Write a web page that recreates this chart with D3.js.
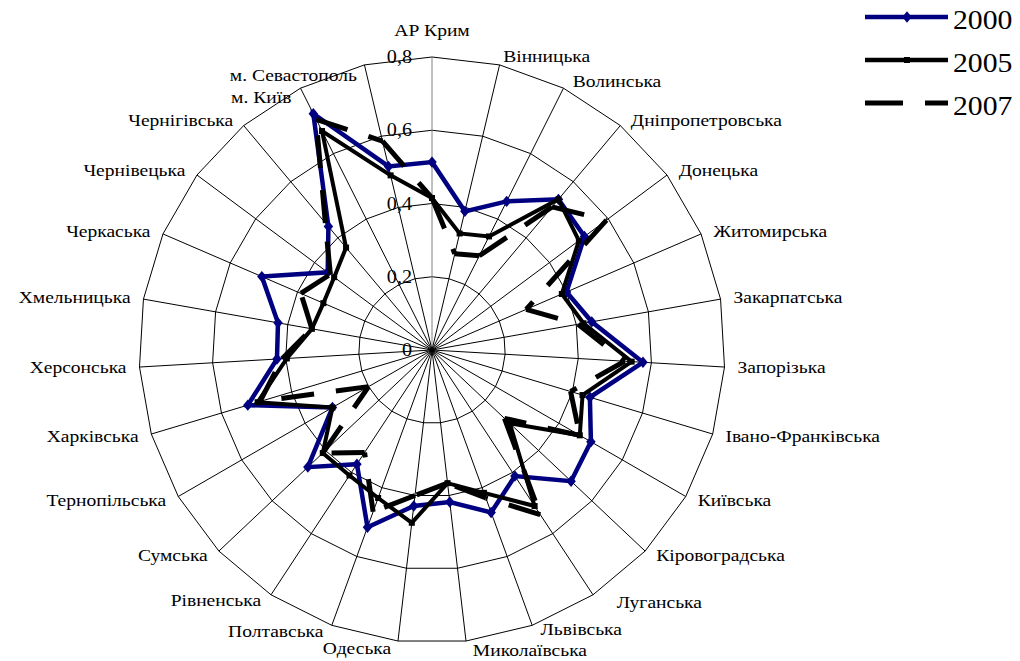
<!DOCTYPE html>
<html><head><meta charset="utf-8">
<script src="https://cdnjs.cloudflare.com/ajax/libs/d3/7.8.5/d3.min.js"></script>
<style>
body{margin:0;background:#fff}
svg{display:block}
svg text{font-family:"Times New Roman",Times,"Liberation Serif",Tinos,"DejaVu Serif","Noto Serif",serif}
</style>
</head><body>
<svg id="chart" width="1020" height="661"></svg>
<script>
const categories = ["АР Крим","Вінницька","Волинська","Дніпропетровська","Донецька","Житомирська","Закарпатська","Запорізька","Івано-Франківська","Київська","Кіровоградська","Луганська","Львівська","Миколаївська","Одеська","Полтавська","Рівненська","Сумська","Тернопільська","Харківська","Херсонська","Хмельницька","Черкаська","Чернівецька","Чернігівська","м. Київ","м. Севастополь"];
const values2000 = [0.513,0.389,0.454,0.537,0.519,0.400,0.443,0.577,0.450,0.501,0.522,0.412,0.472,0.418,0.429,0.515,0.373,0.466,0.314,0.525,0.424,0.427,0.506,0.355,0.440,0.722,0.515];
const values2005 = [0.415,0.327,0.347,0.537,0.500,0.386,0.420,0.546,0.429,0.466,0.292,0.510,0.415,0.366,0.475,0.430,0.410,0.410,0.314,0.497,0.397,0.333,0.323,0.333,0.365,0.669,0.490];
const values2007 = [0.415,0.270,0.288,0.510,0.594,0.280,0.405,0.527,0.395,0.466,0.272,0.538,0.430,0.366,0.400,0.470,0.335,0.410,0.200,0.490,0.410,0.333,0.390,0.346,0.453,0.705,0.586];
const seriesNames = ["2000","2005","2007"];
const tickValues = [0,0.2,0.4,0.6,0.8];
const tickLabels = ["0","0,2","0,4","0,6","0,8"];

const svg = d3.select("#chart");
const cx = 432, cy = 350, R = 293;
const n = categories.length;
const r = d3.scaleLinear().domain([0, 0.8]).range([0, R]);
const ang = d3.scaleLinear().domain([0, n]).range([0, 2 * Math.PI]);
const g = svg.append("g").attr("transform", `translate(${cx},${cy})`);

// Excel-like diamond marker (slightly taller than wide)
const excelDiamond = { draw(ctx, size) {
  const w = Math.sqrt(size) * 0.5, h = w * 1.2;
  ctx.moveTo(0, -h); ctx.lineTo(w, 0); ctx.lineTo(0, h); ctx.lineTo(-w, 0); ctx.closePath();
}};

const ringLine = d3.lineRadial().angle((d, i) => ang(i)).radius(d => r(d)).curve(d3.curveLinearClosed);
tickValues.filter(v => v > 0).forEach(v => {
  g.append("path").attr("d", ringLine(d3.range(n).map(() => v)))
    .attr("fill", "none").attr("stroke", "#000").attr("stroke-width", 1);
});
g.selectAll("line.spoke").data(d3.range(n)).join("line").attr("class", "spoke")
  .attr("x1", 0).attr("y1", 0)
  .attr("x2", i => r(0.8) * Math.sin(ang(i)))
  .attr("y2", i => -r(0.8) * Math.cos(ang(i)))
  .attr("stroke", i => i === 0 ? "#808080" : "#000").attr("stroke-width", 1);

g.selectAll("text.tick").data(tickValues).join("text").attr("class", "tick")
  .attr("transform", v => `translate(-20,${-r(v)}) scale(1.12,1)`)
  .attr("text-anchor", "end").attr("dominant-baseline", "central")
  .attr("font-size", 18).text((v, i) => tickLabels[i]);

const nudge = {"АР Крим": [0, -20], "м. Київ": [0, 16], "м. Севастополь": [0, 17], "Луганська": [14, 2], "Вінницька": [-4, -2], "Львівська": [0, -2], "Миколаївська": [0, 2]};
categories.forEach((c, i) => {
  const a = ang(i);
  const s = Math.sin(a), co = Math.cos(a);
  let x = (R + 7) * s, y = -(R + 7) * co;
  let anchor = "middle";
  if (s > 0.1) { anchor = "start"; x += 6; }
  else if (s < -0.1) { anchor = "end"; x -= 6; }
  const d = nudge[c] || [0, 0];
  g.append("text").attr("transform", `translate(${x + d[0]},${y + d[1]}) scale(1.15,1)`)
    .attr("text-anchor", anchor).attr("dominant-baseline", "central")
    .attr("font-size", 17).text(c);
});

const radial = d3.lineRadial().angle((d, i) => ang(i)).radius(d => r(d)).curve(d3.curveLinearClosed);
const pt = (v, i) => [r(v) * Math.sin(ang(i)), -r(v) * Math.cos(ang(i))];

g.append("path").attr("d", radial(values2000)).attr("fill", "none")
  .attr("stroke", "#000080").attr("stroke-width", 4.5).attr("stroke-linejoin", "miter");
g.selectAll("path.m2000").data(values2000).join("path").attr("class", "m2000")
  .attr("d", d3.symbol(excelDiamond, 90))
  .attr("transform", (v, i) => `translate(${pt(v, i)})`)
  .attr("fill", "#000080");
g.append("path").attr("d", radial(values2005)).attr("fill", "none")
  .attr("stroke", "#000").attr("stroke-width", 4).attr("stroke-linejoin", "miter");
g.selectAll("rect.m2005").data(values2005).join("rect").attr("class", "m2005")
  .attr("x", (v, i) => pt(v, i)[0] - 3).attr("y", (v, i) => pt(v, i)[1] - 3)
  .attr("width", 6).attr("height", 6).attr("fill", "#000");
values2007.forEach((v, i) => {
  const j = (i + 1) % n;
  const p1 = pt(v, i), p2 = pt(values2007[j], j);
  g.append("line").attr("x1", p1[0]).attr("y1", p1[1]).attr("x2", p2[0]).attr("y2", p2[1])
    .attr("stroke", "#000").attr("stroke-width", 5).attr("stroke-dasharray", "33,22");
});

const leg = svg.append("g");
const ly = [17, 60, 103];
seriesNames.forEach((s, k) => {
  const l = leg.append("line").attr("x1", 865).attr("x2", 948).attr("y1", ly[k]).attr("y2", ly[k])
    .attr("stroke", k === 0 ? "#000080" : "#000").attr("stroke-width", k === 2 ? 5 : 4.5);
  if (k === 2) l.attr("stroke-dasharray", "38,22");
  if (k === 0) leg.append("path").attr("d", d3.symbol(excelDiamond, 90)).attr("transform", `translate(907,${ly[k]})`).attr("fill", "#000080");
  if (k === 1) leg.append("rect").attr("x", 904).attr("y", ly[k] - 3).attr("width", 6).attr("height", 6).attr("fill", "#000");
  leg.append("text").attr("transform", `translate(953,${ly[k] + 12}) scale(1.1,1)`)
    .attr("font-size", 27).text(s);
});
</script>
</body></html>
